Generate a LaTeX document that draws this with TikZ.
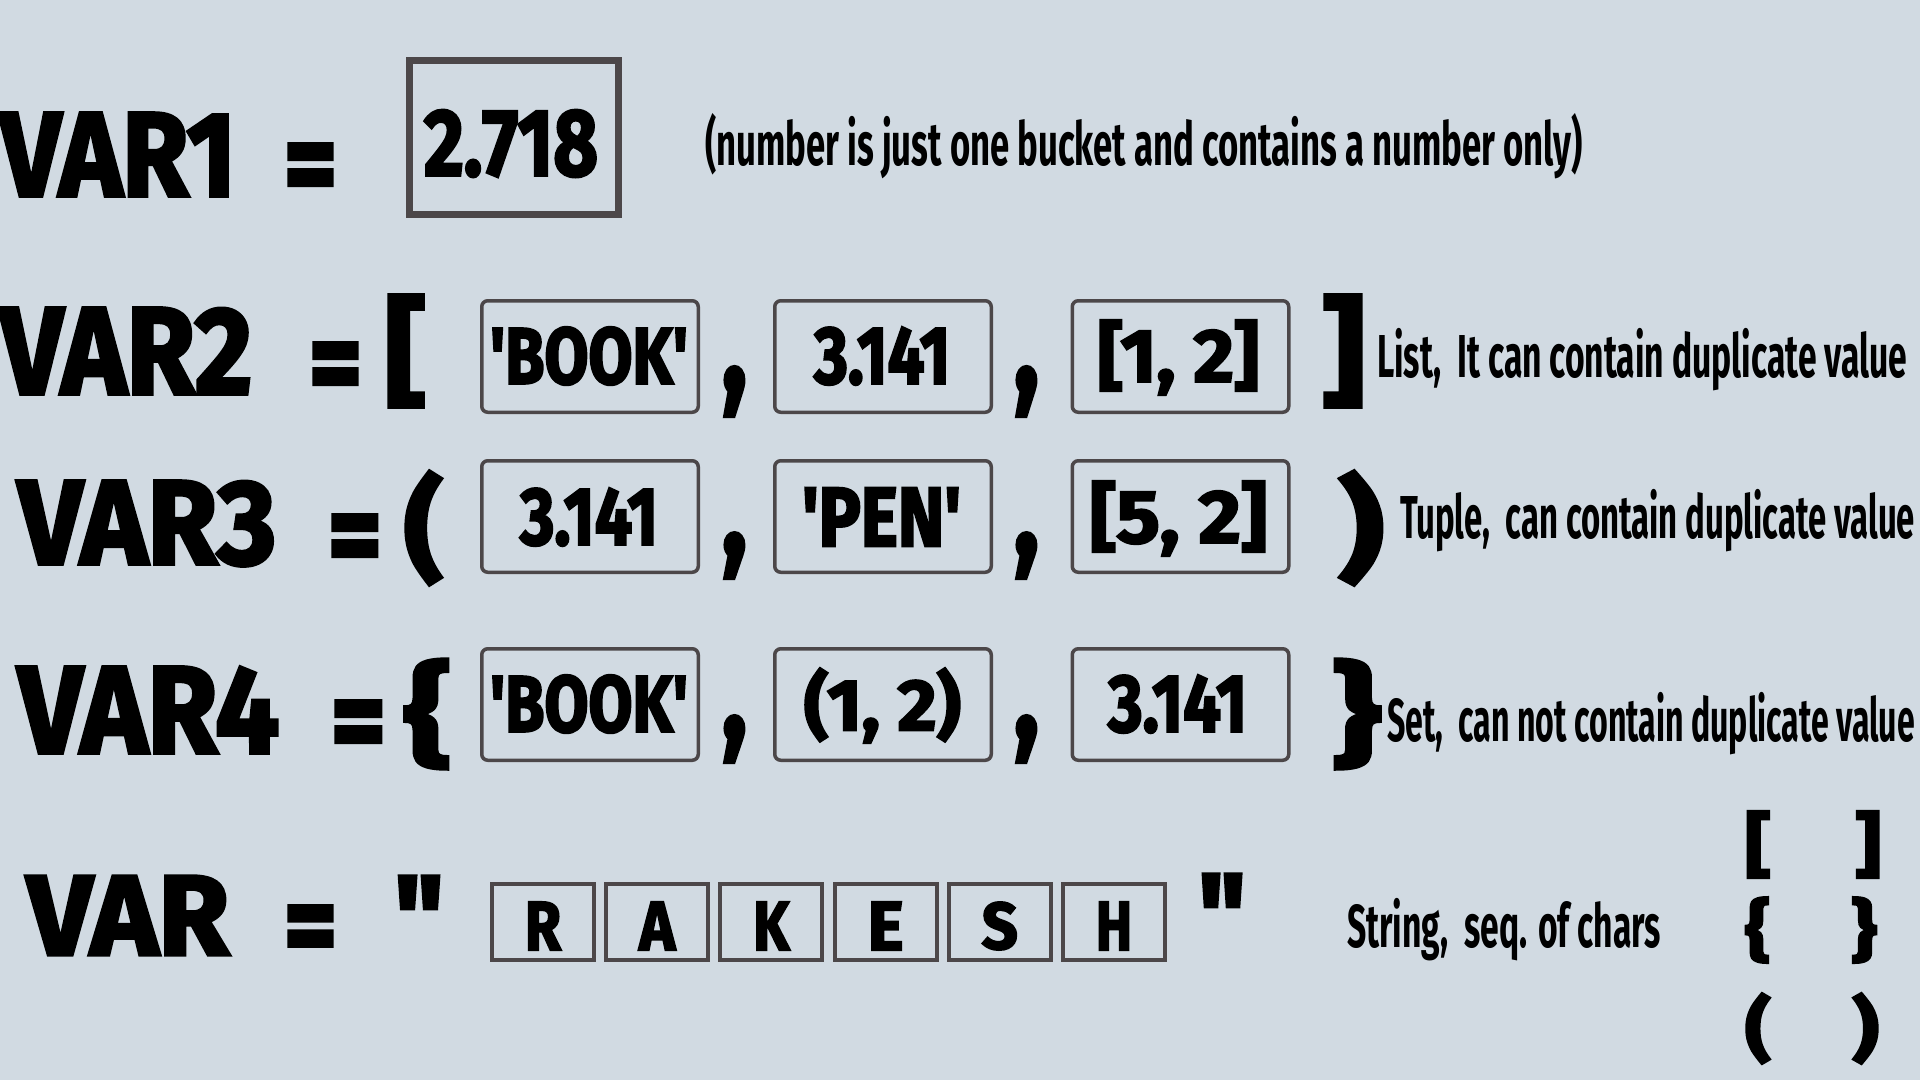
\documentclass[tikz,border=0pt]{standalone}
\usepackage{fontspec}
\usepackage{graphicx}
\newfontfamily\bigf{Fira Sans}[FakeBold=3]
\newfontfamily\notef{Fira Sans}
\definecolor{bg}{HTML}{D1DAE2}
\definecolor{boxc}{HTML}{4C4749}
\newcommand\fb[3]{\resizebox*{#1pt}{#2pt}{\bigf\bfseries #3}}
\newlength\annoW
\newlength\annoH
\newlength\annoT
\newlength\annoS
\newcommand\anno[1]{\scalebox{\nsx}[\nsy]{\notef\bfseries #1}}
\newcommand\annox[2]{\scalebox{#1}[\nsy]{\notef\bfseries #2}}
\tikzset{
  glyph/.style={inner sep=0pt, outer sep=0pt, anchor=north west},
  bigbox/.style={draw=boxc, line width=7pt, inner sep=0pt, minimum width=209pt, minimum height=154pt},
  valbox/.style={draw=boxc, line width=3.5pt, rounded corners=6pt, inner sep=0pt, minimum width=216.5pt, minimum height=111.5pt},
  charbox/.style={draw=boxc, line width=4pt, inner sep=0pt, minimum width=102pt, minimum height=76pt},
  note/.style={inner sep=0pt, outer sep=0pt, anchor=base west},
}
\begin{document}
\settowidth\annoW{\notef\bfseries List,\ \ It can contain duplicate value}%
\settoheight\annoH{\notef\bfseries L}%
\settowidth\annoT{\notef\bfseries Tuple,\ \ can contain duplicate value}%
\settowidth\annoS{\notef\bfseries Set,\ \ can not contain duplicate value}%
\pgfmathsetmacro\nsx{530/\annoW}%
\pgfmathsetmacro\nsy{42/\annoH}%
\pgfmathsetmacro\nsxone{\nsx*1.03}%
\pgfmathsetmacro\nsxT{min(\nsx,515/\annoT)}%
\pgfmathsetmacro\nsxS{min(\nsx,528/\annoS)}%
\begin{tikzpicture}[x=1pt,y=-1pt]
\useasboundingbox (0,0) rectangle (1920,1080);
\fill[bg] (0,0) rectangle (1920,1080);

% Row 1
\node[glyph] (v1) at (0,113) {\fb{236}{83}{VAR1}};
\node[glyph] (eq1) at (284,144) {\fb{53}{62}{=}};
\node[bigbox] (box1) at (514,137.5) {};
\node[glyph] (t1) at (424,110) {\fb{174}{67}{2.718}};
\node[note] (n1) at (705,165) {\annox{\nsxone}{(number is just one bucket and contains a number only)}};

% Row 2
\node[glyph] (v2) at (0,308) {\fb{252}{86}{VAR2}};
\node[glyph] (eq2) at (309,343) {\fb{53}{62}{=}};
\node[glyph] (lb2) at (385,295) {\fb{41}{112}{[}};
\node[valbox] (b21) at (590,356.5) {};
\node[valbox] (b22) at (883,356.5) {};
\node[valbox] (b23) at (1180.5,356.5) {};
\node[glyph] (t21) at (490,327) {\fb{198}{58}{'BOOK'}};
\node[glyph] (t22) at (814,327) {\fb{136}{58}{3.141}};
\node[glyph] (t23) at (1098,320) {\fb{161}{75}{[1, 2]}};
\node[glyph] (c21) at (722,367) {\fb{25}{49}{,}};
\node[glyph] (c22) at (1014,367) {\fb{25}{49}{,}};
\node[glyph] (rb2) at (1322,295) {\fb{43}{112}{]}};
\node[note] (n2) at (1377,377) {\anno{List,\ \ It can contain duplicate value}};

% Row 3
\node[glyph] (v3) at (18,481) {\fb{258}{85}{VAR3}};
\node[glyph] (eq3) at (328,515) {\fb{54}{62}{=}};
\node[glyph] (lp3) at (404,471) {\fb{39}{114}{(}};
\node[valbox] (b31) at (590,516.5) {};
\node[valbox] (b32) at (883,516.5) {};
\node[valbox] (b33) at (1180.5,516.5) {};
\node[glyph] (t31) at (520,488) {\fb{138}{58}{3.141}};
\node[glyph] (t32) at (802,488) {\fb{159}{58}{'PEN'}};
\node[glyph] (t33) at (1090,481) {\fb{177}{75}{[5, 2]}};
\node[glyph] (c31) at (722,533) {\fb{25}{45}{,}};
\node[glyph] (c32) at (1014,533) {\fb{25}{45}{,}};
\node[glyph] (rp3) at (1338,471) {\fb{46}{114}{)}};
\node[note] (n3) at (1400,538) {\annox{\nsxT}{Tuple,\ \ can contain duplicate value}};

% Row 4
\node[glyph] (v4) at (18,667) {\fb{261}{86}{VAR4}};
\node[glyph] (eq4) at (331,701) {\fb{55}{62}{=}};
\node[glyph] (lc4) at (404,659) {\fb{47}{110}{\{}};
\node[valbox] (b41) at (590,704.5) {};
\node[valbox] (b42) at (883,704.5) {};
\node[valbox] (b43) at (1180.5,704.5) {};
\node[glyph] (t41) at (490,675) {\fb{198}{58}{'BOOK'}};
\node[glyph] (t42) at (804,668) {\fb{157}{75}{(1, 2)}};
\node[glyph] (t43) at (1108,675) {\fb{139}{58}{3.141}};
\node[glyph] (c41) at (722,716) {\fb{25}{46}{,}};
\node[glyph] (c42) at (1014,716) {\fb{25}{46}{,}};
\node[glyph] (rc4) at (1332,659) {\fb{49}{110}{\}}};
\node[note] (n4) at (1387,741) {\annox{\nsxS}{Set,\ \ can not contain duplicate value}};

% Row 5
\node[glyph] (v5) at (27,876) {\fb{202}{79}{VAR}};
\node[glyph] (eq5) at (284,906) {\fb{53}{60}{=}};
\node[glyph] (q1) at (394,876) {\fb{50}{81}{"}};
\foreach \ch [count=\i] in {R,A,K,E,S,H} {
  \pgfmathsetmacro\cx{543+(\i-1)*114.2}
  \node[charbox] (cb\i) at (\cx,921.5) {};
  \node[glyph, anchor=center] (ch\i) at (\cx,926) {\fb{36}{48}{\ch}};
}
\node[glyph] (q2) at (1198,874) {\fb{48}{81}{"}};
\node[note] (n5) at (1347,947) {\anno{String,\ \ seq. of chars}};

% bracket column
\node[glyph] (kb1) at (1745,811) {\fb{26}{67}{[}};
\node[glyph] (kb2) at (1855,811) {\fb{26}{67}{]}};
\node[glyph] (kc1) at (1745,897) {\fb{25}{66}{\{}};
\node[glyph] (kc2) at (1851,897) {\fb{26}{66}{\}}};
\node[glyph] (kp1) at (1745,993) {\fb{26}{71}{(}};
\node[glyph] (kp2) at (1852,993) {\fb{27}{71}{)}};
\end{tikzpicture}
\end{document}
